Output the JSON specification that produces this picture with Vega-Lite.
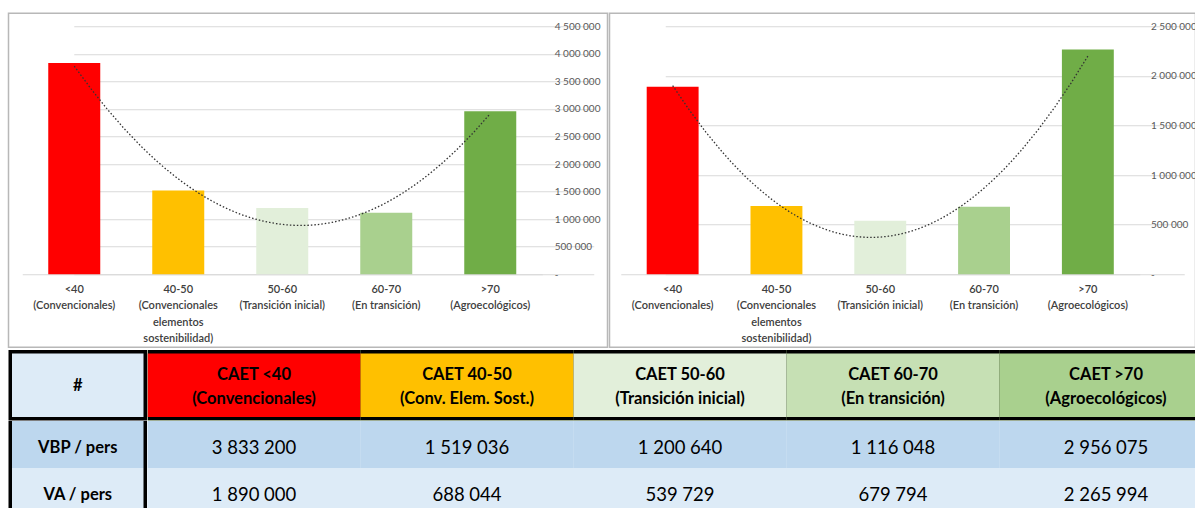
{
  "$schema": "https://vega.github.io/schema/vega-lite/v6.json",
  "background": "white",
  "padding": {"left": 7.5, "top": 12.25, "right": 0, "bottom": 0},
  "datasets": {
    "cats": [
      {"cat": "<40|(Convencionales)", "idx": 1, "head": "CAET <40|(Convencionales)", "VBP": 3833200, "VA": 1890000},
      {"cat": "40-50|(Convencionales|elementos|sostenibilidad)", "idx": 2, "head": "CAET 40-50|(Conv. Elem. Sost.)", "VBP": 1519036, "VA": 688044},
      {"cat": "50-60|(Transición inicial)", "idx": 3, "head": "CAET 50-60|(Transición inicial)", "VBP": 1200640, "VA": 539729},
      {"cat": "60-70|(En transición)", "idx": 4, "head": "CAET 60-70|(En transición)", "VBP": 1116048, "VA": 679794},
      {"cat": ">70|(Agroecológicos)", "idx": 5, "head": "CAET >70|(Agroecológicos)", "VBP": 2956075, "VA": 2265994}
    ],
    "rowlabels": [
      {"key": "VBP", "label": "VBP / pers"},
      {"key": "VA", "label": "VA / pers"}
    ],
    "corner": [{"h": "#"}]
  },
  "vconcat": [
    {
      "hconcat": [
        {
          "width": 599,
          "height": 334,
          "view": {"stroke": "#b8b8b8", "strokeWidth": 1.5},
          "data": {"name": "cats"},
          "layer": [
            {
              "mark": {"type": "bar"},
              "encoding": {
                "x": {"field": "cat", "type": "nominal", "sort": null,
                  "scale": {"range": [13.75, 533.75], "paddingInner": 0.5, "paddingOuter": 0.25},
                  "axis": {"orient": "bottom", "offset": -73, "title": null, "ticks": false, "domain": true, "domainColor": "#d9d9d9", "grid": false,
                    "labelExpr": "split(datum.label, '|')", "labelAngle": 0, "labelBaseline": "top", "labelPadding": 9, "labelLineHeight": 16.5,
                    "labelFont": "Lato", "labelFontSize": 11, "labelFontWeight": 600, "labelColor": "#404040", "labelLimit": 0, "labelOverlap": false, "labelBound": false}},
                "y": {"field": "VBP", "type": "quantitative",
                  "scale": {"domain": [0, 4500000], "nice": false, "range": [261, 13]},
                  "axis": {"orient": "right", "offset": -53.25, "title": null, "ticks": false, "tickSize": 0, "domain": false, "grid": true, "gridColor": "#d9d9d9",
                    "values": [0, 500000, 1000000, 1500000, 2000000, 2500000, 3000000, 3500000, 4000000, 4500000],
                    "format": ",d", "labelExpr": "datum.value === 0 ? '-' : datum.label", "labelPadding": 0,
                    "labelFont": "Lato", "labelFontSize": 10, "labelColor": "#595959"}},
                "color": {"field": "idx", "type": "nominal", "scale": {"domain": [1, 2, 3, 4, 5], "range": ["#FF0000", "#FFC000", "#E2EFDA", "#A9D08E", "#70AD47"]}, "legend": null}
              }
            },
            {
              "transform": [{"regression": "VBP", "on": "idx", "method": "poly", "order": 2}],
              "mark": {"type": "line", "color": "#333333", "strokeWidth": 1.3, "strokeDash": [1.5, 2]},
              "encoding": {
                "x": {"field": "idx", "type": "quantitative", "scale": {"domain": [0.5, 5.5], "nice": false, "zero": false, "range": [13.75, 533.75]}, "axis": null},
                "y": {"field": "VBP", "type": "quantitative", "axis": null}
              }
            }
          ],
          "resolve": {"scale": {"x": "independent"}, "axis": {"x": "independent", "y": "independent"}}
        },
        {
          "width": 586,
          "height": 334,
          "view": {"stroke": "#b8b8b8", "strokeWidth": 1.5},
          "data": {"name": "cats"},
          "layer": [
            {
              "mark": {"type": "bar"},
              "encoding": {
                "x": {"field": "cat", "type": "nominal", "sort": null,
                  "scale": {"range": [11.25, 530.25], "paddingInner": 0.5, "paddingOuter": 0.25},
                  "axis": {"orient": "bottom", "offset": -73, "title": null, "ticks": false, "domain": true, "domainColor": "#d9d9d9", "grid": false,
                    "labelExpr": "split(datum.label, '|')", "labelAngle": 0, "labelBaseline": "top", "labelPadding": 9, "labelLineHeight": 16.5,
                    "labelFont": "Lato", "labelFontSize": 11, "labelFontWeight": 600, "labelColor": "#404040", "labelLimit": 0, "labelOverlap": false, "labelBound": false}},
                "y": {"field": "VA", "type": "quantitative",
                  "scale": {"domain": [0, 2500000], "nice": false, "range": [261, 13]},
                  "axis": {"orient": "right", "offset": -45, "title": null, "ticks": false, "tickSize": 0, "domain": false, "grid": true, "gridColor": "#d9d9d9",
                    "values": [0, 500000, 1000000, 1500000, 2000000, 2500000],
                    "format": ",d", "labelExpr": "datum.value === 0 ? '-' : datum.label", "labelPadding": 0,
                    "labelFont": "Lato", "labelFontSize": 10, "labelColor": "#595959"}},
                "color": {"field": "idx", "type": "nominal", "scale": {"domain": [1, 2, 3, 4, 5], "range": ["#FF0000", "#FFC000", "#E2EFDA", "#A9D08E", "#70AD47"]}, "legend": null}
              }
            },
            {
              "transform": [{"regression": "VA", "on": "idx", "method": "poly", "order": 2}],
              "mark": {"type": "line", "color": "#333333", "strokeWidth": 1.3, "strokeDash": [1.5, 2]},
              "encoding": {
                "x": {"field": "idx", "type": "quantitative", "scale": {"domain": [0.5, 5.5], "nice": false, "zero": false, "range": [11.25, 530.25]}, "axis": null},
                "y": {"field": "VA", "type": "quantitative", "axis": null}
              }
            }
          ],
          "resolve": {"scale": {"x": "independent"}, "axis": {"x": "independent", "y": "independent"}}
        }
      ],
      "spacing": 0,
      "resolve": {"scale": {"color": "independent"}}
    },
    {
      "vconcat": [
        {
          "hconcat": [
            {
              "width": 138.5,
              "height": 70.5,
              "view": {"stroke": null, "fill": "#000000"},
              "data": {"name": "corner"},
              "layer": [
                {
                  "mark": {"type": "rect", "color": "#DDEBF7", "clip": true},
                  "encoding": {
                    "x": {"field": "h", "type": "nominal", "scale": {"range": [3.5, 135], "paddingInner": 0, "paddingOuter": 0}, "axis": null},
                    "y": {"field": "h", "type": "nominal", "scale": {"range": [3.5, 67], "paddingInner": 0, "paddingOuter": 0}, "axis": null}
                  }
                },
                {
                  "mark": {"type": "text", "font": "Lato", "fontWeight": "bold", "fontSize": 16.5, "color": "#000000", "baseline": "middle", "dy": 1},
                  "encoding": {
                    "x": {"field": "h", "type": "nominal", "axis": null},
                    "y": {"field": "h", "type": "nominal", "axis": null},
                    "text": {"field": "h"}
                  }
                }
              ]
            },
            {
              "width": 1049,
              "height": 70.5,
              "view": {"stroke": null, "fill": "#A9D08E"},
              "data": {"name": "cats"},
              "layer": [
                {
                  "mark": {"type": "rect", "color": "#000000", "clip": true},
                  "encoding": {
                    "x": {"field": "idx", "type": "nominal", "scale": {"range": [0, 1065], "paddingInner": 0, "paddingOuter": 0}, "axis": null}
                  }
                },
                {
                  "mark": {"type": "rect", "clip": true},
                  "encoding": {
                    "x": {"field": "idx", "type": "nominal", "axis": null},
                    "y": {"datum": "head", "type": "nominal", "scale": {"range": [3.5, 67], "paddingInner": 0, "paddingOuter": 0}, "axis": null},
                    "color": {"field": "idx", "type": "nominal", "scale": {"domain": [1, 2, 3, 4, 5], "range": ["#FF0000", "#FFC000", "#E2EFDA", "#C6E0B4", "#A9D08E"]}, "legend": null}
                  }
                },
                {
                  "mark": {"type": "text", "clip": true, "font": "Lato", "fontWeight": "bold", "fontSize": 16.5, "color": "#000000", "lineBreak": "|", "lineHeight": 24, "baseline": "middle", "dy": -10},
                  "encoding": {
                    "x": {"field": "idx", "type": "nominal", "axis": null},
                    "y": {"datum": "head", "type": "nominal", "axis": null},
                    "text": {"field": "head"}
                  }
                }
              ]
            }
          ],
          "spacing": 0,
          "resolve": {"scale": {"color": "independent"}}
        },
        {
          "hconcat": [
            {
              "width": 138.5,
              "height": 88,
              "view": {"stroke": null, "fill": "#000000"},
              "data": {"name": "rowlabels"},
              "layer": [
                {
                  "mark": {"type": "rect", "clip": true},
                  "encoding": {
                    "x": {"datum": "lab", "type": "nominal", "scale": {"range": [3.5, 135], "paddingInner": 0, "paddingOuter": 0}, "axis": null},
                    "y": {"field": "key", "type": "nominal", "sort": null, "scale": {"domain": ["VBP", "VA"], "range": [0, 94], "paddingInner": 0, "paddingOuter": 0}, "axis": null},
                    "color": {"field": "key", "type": "nominal", "scale": {"domain": ["VBP", "VA"], "range": ["#BDD7EE", "#DDEBF7"]}, "legend": null}
                  }
                },
                {
                  "mark": {"type": "text", "clip": true, "font": "Lato", "fontWeight": "bold", "fontSize": 16.5, "color": "#000000", "baseline": "middle", "dy": 3},
                  "encoding": {
                    "x": {"datum": "lab", "type": "nominal", "axis": null},
                    "y": {"field": "key", "type": "nominal", "sort": null, "axis": null},
                    "text": {"field": "label"}
                  }
                }
              ]
            },
            {
              "width": 1049,
              "height": 88,
              "view": {"stroke": null, "fill": "#DDEBF7"},
              "data": {"name": "cats"},
              "transform": [{"fold": ["VBP", "VA"], "as": ["key", "value"]}],
              "layer": [
                {
                  "mark": {"type": "rect", "clip": true},
                  "encoding": {
                    "x": {"field": "idx", "type": "nominal", "scale": {"range": [0, 1065], "paddingInner": 0, "paddingOuter": 0}, "axis": null},
                    "y": {"field": "key", "type": "nominal", "scale": {"domain": ["VBP", "VA"], "range": [0, 94], "paddingInner": 0, "paddingOuter": 0}, "axis": null},
                    "color": {"field": "key", "type": "nominal", "scale": {"domain": ["VBP", "VA"], "range": ["#BDD7EE", "#DDEBF7"]}, "legend": null}
                  }
                },
                {
                  "mark": {"type": "text", "clip": true, "font": "Lato", "fontSize": 18.5, "color": "#000000", "baseline": "middle", "dy": 3},
                  "encoding": {
                    "x": {"field": "idx", "type": "nominal", "axis": null},
                    "y": {"field": "key", "type": "nominal", "axis": null},
                    "text": {"field": "value", "type": "quantitative", "format": ",d"}
                  }
                }
              ]
            }
          ],
          "spacing": 0,
          "resolve": {"scale": {"color": "independent"}}
        }
      ],
      "spacing": 0,
      "resolve": {"scale": {"color": "independent"}}
    }
  ],
  "spacing": 1.75,
  "resolve": {"scale": {"color": "independent"}},
  "config": {
    "locale": {"number": {"decimal": ",", "thousands": " ", "grouping": [3], "currency": ["", " €"]}}
  }
}
